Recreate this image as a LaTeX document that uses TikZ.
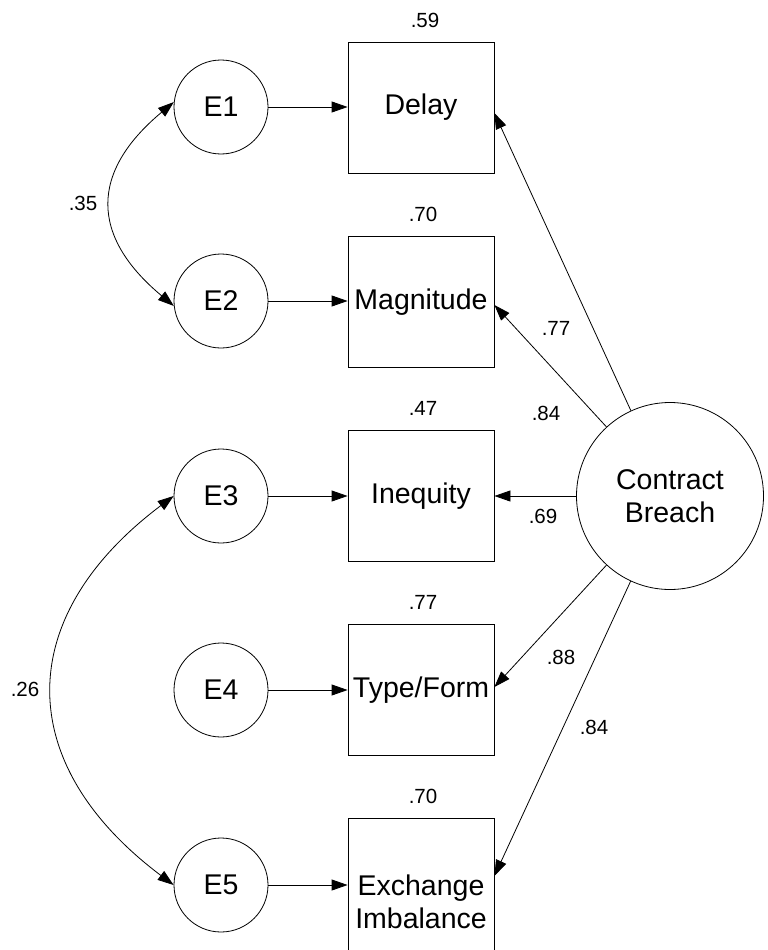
\documentclass[tikz,border=0pt]{standalone}
\usepackage{fontspec}
\setmainfont{Liberation Sans}
\usetikzlibrary{arrows.meta}
\begin{document}
\begin{tikzpicture}[x=1pt,y=-1pt,
  every node/.style={font=\fontsize{28.5}{33}\selectfont},
  err/.style={draw,circle,minimum size=94pt,inner sep=0pt,line width=0.8pt},
  latent/.style={draw,circle,minimum size=187pt,inner sep=0pt,line width=0.8pt,align=center},
  obs/.style={draw,rectangle,minimum width=146pt,minimum height=131pt,inner sep=0pt,line width=0.8pt,align=center},
  val/.style={font=\fontsize{20.5}{24}\selectfont,inner sep=0pt},
  tip/.style={Triangle[length=16pt,width=11pt]},
  path/.style={line width=0.8pt,-{Triangle[length=16pt,width=11pt]}},
  cov/.style={line width=0.8pt,{Triangle[length=16pt,width=11pt]}-{Triangle[length=16pt,width=11pt]}}]
\useasboundingbox (0,0) rectangle (768,950);
\clip (0,0) rectangle (768,950);

% error terms
\node[err] (e1) at (221,107) {E1};
\node[err] (e2) at (221,301) {E2};
\node[err] (e3) at (221,496) {E3};
\node[err] (e4) at (221,690) {E4};
\node[err] (e5) at (221,885) {E5};

% observed indicators
\node[obs] (d1) at (421,107.5) {Delay};
\node[obs] (d2) at (421,302) {Magnitude};
\node[obs] (d3) at (421,496) {Inequity};
\node[obs] (d4) at (421,690) {Type/Form};
\node[obs,minimum height=166pt,anchor=north] (d5) at (421,818) {Exchange\\Imbalance};

% latent factor
\node[latent] (cb) at (670,496) {Contract\\Breach};

% squared multiple correlations
\node[val] (r1) at (425,20) {.59};
\node[val] (r2) at (423,214) {.70};
\node[val] (r3) at (423,408) {.47};
\node[val] (r4) at (423,602) {.77};
\node[val] (r5) at (423,796) {.70};

% error paths
\draw[path] (e1.east) -- (e1.east -| d1.west);
\draw[path] (e2.east) -- (e2.east -| d2.west);
\draw[path] (e3.east) -- (e3.east -| d3.west);
\draw[path] (e4.east) -- (e4.east -| d4.west);
\draw[path] (e5.east) -- (e5.east -| d5.west);

% factor loadings
\coordinate (t1) at ([yshift=-5.5pt]d1.east);
\coordinate (t2) at ([yshift=-3pt]d2.east);
\coordinate (t4) at ([yshift=3pt]d4.east);
\coordinate (t5) at ([yshift=-58pt]d5.north east);
\draw[path] (cb) -- (t1);
\draw[path] (cb) -- (t2);
\draw[path] (cb) -- (d3.east);
\draw[path] (cb) -- (t4);
\draw[path] (cb) -- (t5);

\node[val] (l2) at (556,328) {.77};
\node[val] (l1) at (546,413) {.84};
\node[val] (l3) at (543,516) {.69};
\node[val] (l4) at (561,657) {.88};
\node[val] (l5) at (594,727) {.84};

% error covariances
\draw[cov] (e1.174) .. controls +(-84,70) and +(-84,-70) .. (e2.186);
\draw[cov] (e3.180) .. controls +(-161,121) and +(-161,-121) .. (e5.180);
\node[val] (c12) at (83,203) {.35};
\node[val] (c35) at (25,689) {.26};
\end{tikzpicture}
\end{document}
